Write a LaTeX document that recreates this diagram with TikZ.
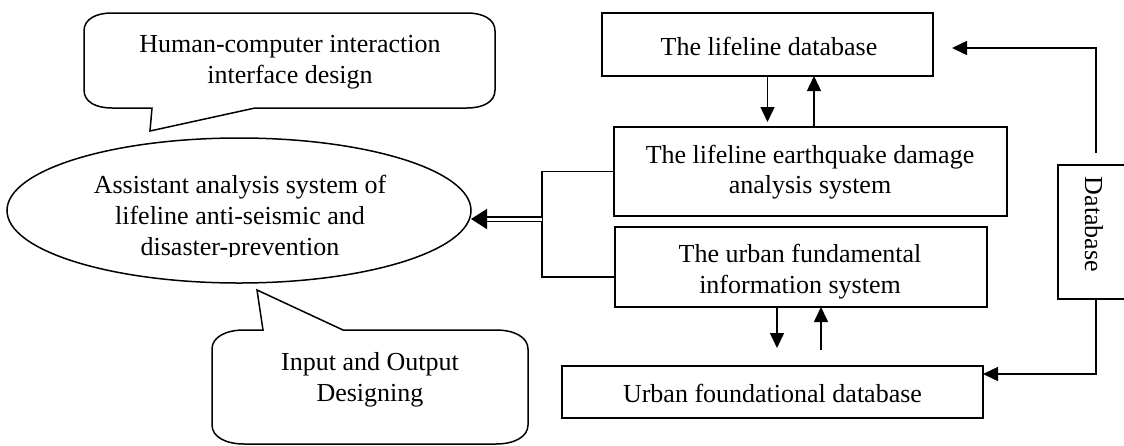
\documentclass[tikz,border=0pt]{standalone}
\usepackage{fontspec}
\setmainfont{Liberation Serif}
\usetikzlibrary{arrows.meta,shapes.geometric}
\begin{document}
\begin{tikzpicture}[x=1pt,y=-1pt,
  ln/.style={line width=1.5pt},
  box/.style={draw, ln, rectangle, inner sep=0pt, outer sep=0pt},
  lbl/.style={font=\fontsize{26}{31}\selectfont, inner sep=0pt, anchor=base},
  arr/.style={ln, -{Triangle[length=15pt,width=14pt]}},
  dbl/.style={ln, double, double distance=3pt, -{Triangle[length=16pt,width=20pt]}}]
\useasboundingbox (0,0) rectangle (1124,445);

% callouts
\draw[ln] (84,31) .. controls (84,19) and (96,13) .. (112,13) -- (467,13)
  .. controls (483,13) and (495,19) .. (495,31) -- (495,90)
  .. controls (495,102) and (483,108) .. (467,108) -- (255,108) -- (150,131) -- (152,108)
  -- (112,108) .. controls (96,108) and (84,102) .. (84,90) -- cycle;
\node[lbl] (t1) at (290,52) {Human-computer interaction};
\node[lbl] (t2) at (290,83) {interface design};

\draw[ln] (212,349) .. controls (212,337) and (226,330) .. (244,330) -- (263,330) -- (257,290)
  -- (343,330) -- (496,330) .. controls (514,330) and (528,337) .. (528,349) -- (528,425)
  .. controls (528,437) and (514,444) .. (496,444) -- (244,444)
  .. controls (226,444) and (212,437) .. (212,425) -- cycle;
\node[lbl] (b1) at (370,370) {Input and Output};
\node[lbl] (b2) at (370,401) {Designing};

% ellipse
\node[draw, ln, ellipse, minimum width=464pt, minimum height=145pt, inner sep=0pt, outer sep=0pt] (ell) at (239,210.5) {};
\node[lbl] (e1) at (240,193) {Assistant analysis system of};
\node[lbl] (e2) at (240,224) {lifeline anti-seismic and};
\begin{scope}
  \clip (0,0) rectangle (480,256);
  \node[lbl] (e3) at (240,255) {disaster-prevention};
\end{scope}

% boxes
\node[box, minimum width=331pt, minimum height=63pt] (ldb) at (767.5,44.5) {};
\node[lbl] at (769,55) {The lifeline database};

\node[box, minimum width=393pt, minimum height=89pt] (eq) at (810.5,171.5) {};
\node[lbl] at (810,163) {The lifeline earthquake damage};
\node[lbl] at (810,193) {analysis system};

\node[box, minimum width=372pt, minimum height=80pt] (ufs) at (801,267) {};
\node[lbl] at (800,262) {The urban fundamental};
\node[lbl] at (800,293) {information system};

\node[box, minimum width=421pt, minimum height=52pt] (udb) at (772.5,392) {};
\node[lbl] at (772.5,402) {Urban foundational database};

\node[box, minimum width=76pt, minimum height=134pt] (dbb) at (1096,232) {};
\node[lbl, rotate=-90] at (1085,224.5) {Database};

% connectors
\draw[arr, shorten >=5pt] (ldb.south) -- (ldb.south |- eq.north);
\draw[arr] (814,0 |- eq.north) -- (814,0 |- ldb.south);
\draw[arr, shorten >=18pt] (777,0 |- ufs.south) -- (777,0 |- udb.north);
\draw[arr, shorten <=16pt] (821,0 |- udb.north) -- (821,0 |- ufs.south);

\draw[arr, shorten <=12pt, shorten >=19pt] (dbb.north) |- ([yshift=-3.5pt]ldb.east);
\draw[arr] (dbb.south) |- ([yshift=18pt]udb.east);

\coordinate (jn) at (542,219);
\draw[ln] (eq.west) -| (jn);
\draw[ln] ([yshift=-10pt]ufs.west) -| (jn);
\draw[dbl] (jn) -- (jn -| ell.east);
\end{tikzpicture}
\end{document}
